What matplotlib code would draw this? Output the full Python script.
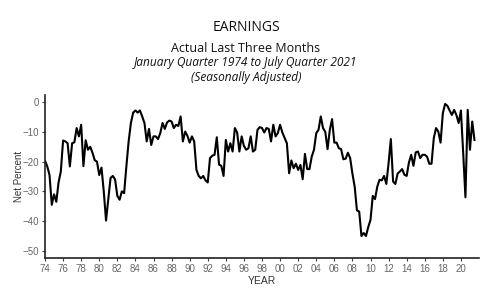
import numpy as np
import matplotlib
matplotlib.use("Agg")
import matplotlib.pyplot as plt

# quarterly net percent, Jan quarter 1974 .. Jul quarter 2021
earnings = [
    -19.7, -21.6, -24.5, -34.5,   # 1974
    -31.0, -33.5, -27.0, -23.3,   # 1975
    -12.9, -13.2, -13.8, -21.6,   # 1976
    -13.8, -13.5, -8.7, -11.5,    # 1977
    -7.6, -21.5, -12.8, -16.0,    # 1978
    -15.0, -17.0, -19.5, -20.0,   # 1979
    -24.5, -22.0, -30.0, -39.8,   # 1980
    -32.8, -25.5, -24.8, -26.0,   # 1981
    -31.5, -32.8, -30.0, -30.6,   # 1982
    -21.6, -13.2, -7.0, -3.5,     # 1983
    -2.8, -3.5, -2.8, -4.8,       # 1984
    -7.0, -13.2, -9.0, -14.4,     # 1985
    -11.5, -11.5, -12.4, -10.4,   # 1986
    -7.0, -9.0, -6.8, -6.2,       # 1987
    -6.5, -8.7, -7.6, -8.0,       # 1988
    -4.8, -13.2, -9.9, -11.3,     # 1989
    -13.6, -11.5, -13.2, -22.8,   # 1990
    -24.8, -25.6, -24.8, -26.3,   # 1991
    -27.0, -18.8, -18.0, -17.7,   # 1992
    -11.8, -21.0, -21.4, -24.8,   # 1993
    -12.7, -16.6, -13.8, -16.6,   # 1994
    -8.7, -10.2, -16.6, -11.5,    # 1995
    -14.7, -16.0, -15.5, -11.5,   # 1996
    -16.6, -16.0, -9.3, -8.4,     # 1997
    -8.7, -10.2, -8.7, -9.0,      # 1998
    -13.2, -7.6, -11.5, -10.4,    # 1999
    -7.6, -10.2, -12.0, -13.8,    # 2000
    -23.9, -19.6, -22.2, -20.7,   # 2001
    -22.8, -21.1, -25.9, -17.4,   # 2002
    -22.5, -22.5, -18.3, -16.0,   # 2003
    -10.4, -9.3, -4.8, -8.7,      # 2004
    -10.0, -15.8, -9.3, -5.7,     # 2005
    -13.6, -13.6, -15.5, -15.8,   # 2006
    -19.2, -19.0, -17.0, -18.8,   # 2007
    -24.0, -28.4, -36.4, -36.8,   # 2008
    -45.0, -44.0, -45.0, -42.0,   # 2009
    -39.6, -31.5, -32.6, -28.4,   # 2010
    -26.1, -26.3, -24.8, -27.5,   # 2011
    -20.5, -12.4, -26.7, -27.5,   # 2012
    -24.0, -23.3, -22.5, -24.4,   # 2013
    -24.8, -20.3, -17.7, -21.4,   # 2014
    -16.9, -16.6, -18.8, -17.7,   # 2015
    -17.7, -18.3, -20.7, -20.7,   # 2016
    -12.1, -8.7, -9.9, -13.6,     # 2017
    -3.7, -0.6, -1.2, -2.8,       # 2018
    -4.3, -2.6, -4.3, -7.0,       # 2019
    -2.8, -17.0, -32.0, -2.6,     # 2020
    -16.0, -6.5, -12.7,           # 2021
]
start_year = 1974
tick_years = list(range(1974, 2021, 2))
tick_labels = [f"{y % 100:02d}" for y in tick_years]
y_ticks = [0, -10, -20, -30, -40, -50]

x = start_year + np.arange(len(earnings)) / 4.0

fig = plt.figure(figsize=(5.0, 2.91), dpi=100)
ax = fig.add_axes([0.09, 0.1134, 0.868, 0.56])

ax.plot(x, earnings, color="black", linewidth=1.5, solid_joinstyle="round")

ax.set_xlim(1974, 2022)
ax.set_ylim(-52.4, 2.4)
ax.set_xticks(tick_years)
ax.set_xticklabels(tick_labels)
ax.set_yticks(y_ticks)

for side in ["top", "right"]:
    ax.spines[side].set_visible(False)
for side in ["left", "bottom"]:
    ax.spines[side].set_linewidth(1.2)
    ax.spines[side].set_color("#222222")

ax.tick_params(axis="both", length=2.5, width=0.8, color="#444444",
               labelsize=7, labelcolor="#666666", pad=2)
for lab in ax.get_xticklabels() + ax.get_yticklabels():
    lab.set_family("Liberation Sans")

ax.set_ylabel("Net Percent", family="Liberation Sans", fontsize=7, color="#333333", labelpad=-1)
ax.set_xlabel("YEAR", family="Liberation Sans", fontsize=7.5, color="#333333", labelpad=1)

fig.text(0.492, 0.905, "EARNINGS", ha="center", va="center", family="Open Sans", fontsize=10, color="#111111")
fig.text(0.492, 0.835, "Actual Last Three Months", ha="center", va="center", family="Open Sans", fontsize=9.0, color="#111111")
fig.text(0.492, 0.785, "January Quarter 1974 to July Quarter 2021", ha="center", va="center", family="Open Sans", style="italic", fontsize=8.6, color="#111111")
fig.text(0.492, 0.735, "(Seasonally Adjusted)", ha="center", va="center", family="Open Sans", style="italic", fontsize=8.6, color="#111111")

fig.savefig("out.png", dpi=100)
